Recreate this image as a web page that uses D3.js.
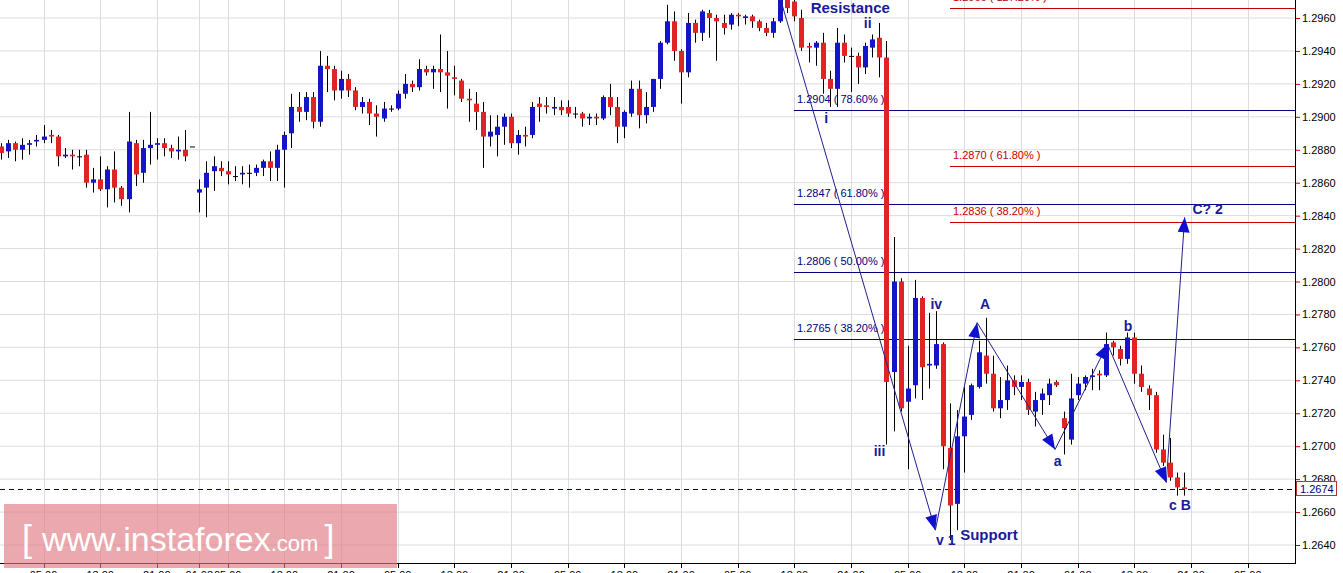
<!DOCTYPE html>
<html>
<head>
<meta charset="utf-8">
<script src="https://cdn.jsdelivr.net/npm/d3@7"></script>
<style>
  body { margin: 0; background: #fff; }
  svg { display: block; font-family: Arial, "Liberation Sans", sans-serif; }
</style>
</head>
<body>
<div id="chart"></div>
<script>
// GBP/USD H1 candles
var open = [1.2882,1.2879,1.2884,1.2880,1.2883,1.2885,1.2886,1.2889,1.2888,1.2876,1.2877,1.2876,1.2877,1.2860,1.2862,1.2856,1.2868,1.2857,1.2850,1.2884,1.2866,1.2881,1.2883,1.2884,1.2881,1.2879,1.2880,1.2882,
  1.2854,1.2857,1.2867,1.2869,1.2867,1.2864,1.2865,1.2866,1.2866,1.2869,1.2873,1.2869,1.2880,1.2890,1.2906,1.2903,1.2912,1.2897,1.2931,1.2929,1.2916,1.2923,1.2916,1.2906,1.2909,1.2902,1.2899,1.2905,1.2905,1.2914,1.2920,1.2918,
  1.2929,1.2927,1.2929,1.2927,1.2924,1.2922,1.2911,1.2908,1.2903,1.2888,1.2889,1.2894,1.2900,1.2884,1.2889,1.2889,1.2908,1.2907,1.2905,1.2906,1.2906,1.2902,1.2902,1.2899,1.2900,1.2899,1.2912,1.2906,1.2894,1.2902,1.2917,1.2901,1.2906,1.2923,1.2945,1.2958,1.2940,1.2927,1.2957,1.2951,
  1.2963,1.2960,1.2957,1.2956,1.2962,1.2960,1.2961,1.2958,1.2954,1.2951,1.2958,1.2975,1.2970,1.2960,1.2943,1.2942,1.2945,1.2923,1.2917,1.2945,1.2937,1.2937,1.2930,1.2942,1.2948,1.2936,
  1.2745,1.2800,1.2727,1.2737,1.2790,1.2749,1.2749,1.2762,1.2699,1.2665,1.2706,1.2719,1.2736,1.2755,1.2744,1.2723,1.2728,1.2740,1.2736,1.2739,1.2721,1.2728,1.2731,1.2739,1.2717,1.2704,1.2731,1.2738,1.2742,1.2744,
  1.2743,1.2763,1.2759,1.2753,1.2766,1.2744,1.2735,1.2731,1.2698,1.2690,1.2681,1.2675];
var high = [1.2884,1.2886,1.2885,1.2887,1.2886,1.2889,1.2895,1.2892,1.2889,1.2881,1.2880,1.2880,1.2880,1.2869,1.2876,1.2870,1.2879,1.2858,1.2903,1.2886,1.2886,1.2903,1.2887,1.2887,1.2883,1.2888,1.2892,1.2882,
  1.2862,1.2873,1.2876,1.2873,1.2873,1.2870,1.2870,1.2871,1.2871,1.2874,1.2879,1.2883,1.2891,1.2914,1.2915,1.2915,1.2915,1.2940,1.2937,1.2931,1.2928,1.2926,1.2918,1.2912,1.2911,1.2907,1.2909,1.2907,1.2916,1.2926,1.2922,1.2935,
  1.2931,1.2931,1.2950,1.2940,1.2931,1.2923,1.2917,1.2915,1.2909,1.2901,1.2901,1.2902,1.2902,1.2892,1.2894,1.2909,1.2912,1.2912,1.2912,1.2910,1.2910,1.2906,1.2903,1.2902,1.2902,1.2913,1.2920,1.2912,1.2904,1.2922,1.2922,1.2915,1.2923,1.2946,1.2968,1.2964,1.2941,1.2963,1.2959,1.2965,
  1.2965,1.2962,1.2962,1.2963,1.2963,1.2962,1.2962,1.2959,1.2957,1.2960,1.2974,1.2978,1.2975,1.2965,1.2945,1.2946,1.2951,1.2928,1.2954,1.2950,1.2942,1.2939,1.2945,1.2950,1.2957,1.2946,
  1.2827,1.2802,1.2761,1.2801,1.2791,1.2781,1.2782,1.2763,1.2726,1.2722,1.2736,1.2738,1.2764,1.2778,1.2755,1.2742,1.2749,1.2743,1.2743,1.2741,1.2733,1.2735,1.2741,1.2740,1.2721,1.2744,1.2742,1.2743,1.2747,1.2746,
  1.2769,1.2764,1.2761,1.2769,1.2769,1.2749,1.2737,1.2733,1.2707,1.2705,1.2684,1.2684];
var low = [1.2874,1.2875,1.2873,1.2874,1.2877,1.2882,1.2884,1.2884,1.2870,1.2875,1.2868,1.2870,1.2857,1.2854,1.2855,1.2845,1.2848,1.2846,1.2842,1.2858,1.2860,1.2871,1.2874,1.2876,1.2875,1.2874,1.2873,1.2882,
  1.2842,1.2839,1.2855,1.2864,1.2859,1.2861,1.2859,1.2857,1.2864,1.2864,1.2861,1.2861,1.2857,1.2881,1.2897,1.2898,1.2893,1.2894,1.2915,1.2910,1.2911,1.2912,1.2904,1.2902,1.2895,1.2888,1.2897,1.2903,1.2904,1.2911,1.2915,1.2916,
  1.2925,1.2917,1.2915,1.2905,1.2913,1.2909,1.2897,1.2892,1.2869,1.2882,1.2876,1.2883,1.2881,1.2877,1.2882,1.2887,1.2897,1.2902,1.2901,1.2901,1.2900,1.2899,1.2894,1.2895,1.2895,1.2898,1.2901,1.2884,1.2887,1.2900,1.2893,1.2896,1.2903,1.2917,1.2944,1.2934,1.2908,1.2924,1.2945,1.2946,
  1.2948,1.2934,1.2950,1.2953,1.2955,1.2956,1.2954,1.2952,1.2949,1.2948,1.2957,1.2963,1.2958,1.2940,1.2933,1.2931,1.2914,1.2906,1.2906,1.2933,1.2915,1.2920,1.2926,1.2936,1.2924,1.2701,
  1.2709,1.2721,1.2686,1.2729,1.2728,1.2735,1.2747,1.2686,1.2643,1.2649,1.2684,1.2716,1.2735,1.2738,1.2721,1.2717,1.2722,1.2731,1.2728,1.2719,1.2712,1.2719,1.2725,1.2736,1.2695,1.2701,1.2728,1.2734,1.2734,1.2734,
  1.2742,1.2755,1.2749,1.2750,1.2738,1.2733,1.2722,1.2696,1.2688,1.2679,1.2670,1.2670];
var close = [1.2878,1.2884,1.2880,1.2883,1.2884,1.2886,1.2888,1.2888,1.2876,1.2877,1.2876,1.2876,1.2860,1.2862,1.2856,1.2868,1.2857,1.2850,1.2885,1.2865,1.2881,1.2883,1.2884,1.2881,1.2879,1.2880,1.2876,1.2882,
  1.2856,1.2866,1.2870,1.2867,1.2865,1.2864,1.2866,1.2866,1.2869,1.2873,1.2869,1.2880,1.2889,1.2906,1.2903,1.2912,1.2897,1.2931,1.2929,1.2916,1.2923,1.2916,1.2906,1.2909,1.2902,1.2900,1.2905,1.2905,1.2914,1.2920,1.2918,1.2929,
  1.2927,1.2929,1.2927,1.2925,1.2923,1.2911,1.2910,1.2903,1.2888,1.2891,1.2894,1.2900,1.2884,1.2889,1.2888,1.2906,1.2906,1.2906,1.2906,1.2904,1.2902,1.2902,1.2899,1.2900,1.2899,1.2912,1.2906,1.2894,1.2903,1.2917,1.2901,1.2906,1.2923,1.2945,1.2958,1.2940,1.2927,1.2957,1.2951,1.2964,
  1.2960,1.2958,1.2954,1.2962,1.2961,1.2961,1.2958,1.2954,1.2951,1.2958,1.2971,1.2966,1.2961,1.2942,1.2942,1.2945,1.2923,1.2917,1.2945,1.2937,1.2937,1.2930,1.2943,1.2947,1.2936,1.2739,
  1.2800,1.2723,1.2735,1.2790,1.2748,1.2750,1.2762,1.2700,1.2664,1.2706,1.2718,1.2737,1.2757,1.2744,1.2723,1.2728,1.2740,1.2736,1.2739,1.2722,1.2728,1.2732,1.2738,1.2737,1.2711,1.2729,1.2738,1.2742,1.2743,1.2743,
  1.2762,1.2760,1.2753,1.2766,1.2744,1.2736,1.2731,1.2698,1.2690,1.2681,1.2675,1.2674];

var priceTicks = [1.2640,1.2660,1.2680,1.2700,1.2720,1.2740,1.2760,1.2780,1.2800,1.2820,1.2840,1.2860,1.2880,1.2900,1.2920,1.2940,1.2960];
var gridIdx = [6,14,22,28,32,40,48,56,64,72,80,88,96,104,112,120,128,136,144,152,160,168,176];
var tickLabels = ["05:00","13:00","21:00","01.08","05:00","13:00","21:00","05:00","13:00","21:00","05:00","13:00","21:00","05:00","13:00","21:00","05:00","13:00","21:00","01.08","13:00","21:00","05:00"];

// Fibonacci levels
var fibBlue = [{p:1.2904,t:"1.2904 ( 78.60% )"},{p:1.2847,t:"1.2847 ( 61.80% )"},{p:1.2806,t:"1.2806 ( 50.00% )"},{p:1.2765,t:"1.2765 ( 38.20% )"}];
var fibRed = [{p:1.2966,t:"1.2966 ( 127.20% )"},{p:1.2870,t:"1.2870 ( 61.80% )"},{p:1.2836,t:"1.2836 ( 38.20% )"}];
var lastPrice = 1.2674;

// wave path [candle index, price]
var wave = [[110,1.2972],[131.9,1.2649],[137.8,1.2775],[148.8,1.2698],[156.2,1.2762],[164.5,1.2678],[167.1,1.2839]];
var waveLabels = [
  {i:114.3,p:1.2963,t:"Resistance",s:15},{i:121.8,p:1.2954,t:"ii",s:14},{i:116.2,p:1.2896,t:"i",s:14},
  {i:123.2,p:1.2694,t:"iii",s:14},{i:131.2,p:1.2783,t:"iv",s:14},{i:132,p:1.2640,t:"v 1",s:14},
  {i:135.4,p:1.2643,t:"Support",s:15},{i:138.2,p:1.2783,t:"A",s:14},{i:148.6,p:1.2688,t:"a",s:14},
  {i:158.5,p:1.2770,t:"b",s:14},{i:164.9,p:1.2661,t:"c B",s:14},{i:168.2,p:1.2841,t:"C? 2",s:14}
];

var W = 1343, H = 573, plotR = 1295, plotB = 563;
var x = d3.scaleLinear().domain([0, 167]).range([1, 1184]);
var y = d3.scaleLinear().domain([1.2640, 1.2960]).range([545, 18]);

var svg = d3.select("#chart").append("svg").attr("width", W).attr("height", H);
var plot = svg.append("g");
plot.append("defs").append("clipPath").attr("id", "clip")
  .append("rect").attr("width", plotR).attr("height", plotB);
var g = plot.append("g").attr("clip-path", "url(#clip)");

// grid
g.selectAll(".hg").data(priceTicks).enter().append("line")
  .attr("x1", 0).attr("x2", plotR).attr("y1", d => y(d)).attr("y2", d => y(d))
  .attr("stroke", "#dcdcdc");
g.selectAll(".vg").data(gridIdx).enter().append("line")
  .attr("x1", d => Math.round(x(d)) + 0.5).attr("x2", d => Math.round(x(d)) + 0.5)
  .attr("y1", 0).attr("y2", plotB).attr("stroke", "#dcdcdc");

// fib lines
g.selectAll(".fb").data(fibBlue).enter().append("line")
  .attr("x1", 794).attr("x2", plotR).attr("y1", d => Math.round(y(d.p)) + 0.5).attr("y2", d => Math.round(y(d.p)) + 0.5)
  .attr("stroke", "#000080");
g.selectAll(".fbt").data(fibBlue).enter().append("text")
  .attr("x", 797).attr("y", d => y(d.p) - 7).text(d => d.t)
  .attr("font-size", 11).attr("fill", "#000080");
g.selectAll(".fr").data(fibRed).enter().append("line")
  .attr("x1", 950).attr("x2", plotR).attr("y1", d => Math.round(y(d.p)) + 0.5).attr("y2", d => Math.round(y(d.p)) + 0.5)
  .attr("stroke", "#c00000");
g.selectAll(".frt").data(fibRed).enter().append("text")
  .attr("x", 953).attr("y", d => y(d.p) - 7).text(d => d.t)
  .attr("font-size", 11).attr("fill", "#c00000");

// last price dashed
g.append("line").attr("x1", 0).attr("x2", plotR)
  .attr("y1", Math.round(y(lastPrice)) + 0.5).attr("y2", Math.round(y(lastPrice)) + 0.5)
  .attr("stroke", "#000060").attr("stroke-dasharray", "5,4");

// candles
var idx = d3.range(open.length);
g.selectAll(".wick").data(idx).enter().append("line")
  .attr("x1", i => Math.round(x(i)) + 0.5).attr("x2", i => Math.round(x(i)) + 0.5)
  .attr("y1", i => y(high[i])).attr("y2", i => y(low[i]))
  .attr("stroke", "#000");
g.selectAll(".body").data(idx).enter().append("rect")
  .attr("x", i => Math.round(x(i)) - 2)
  .attr("width", 5)
  .attr("y", i => y(Math.max(open[i], close[i])))
  .attr("height", i => Math.max(1, y(Math.min(open[i], close[i])) - y(Math.max(open[i], close[i]))))
  .attr("fill", i => close[i] > open[i] ? "#1414c8" : close[i] < open[i] ? "#e02424" : "#000");

// wave lines
var wpts = wave.map(d => [x(d[0]), y(d[1])]);
g.append("path").attr("d", d3.line()(wpts)).attr("fill", "none")
  .attr("stroke", "#20208a").attr("stroke-width", 1);
for (var k = 1; k < wpts.length; k++) {
  var a = wpts[k - 1], b = wpts[k];
  var ang = Math.atan2(b[1] - a[1], b[0] - a[0]) * 180 / Math.PI;
  g.append("path").attr("d", "M0,0 L-15,-6 L-15,6 Z")
    .attr("transform", "translate(" + b[0] + "," + b[1] + ") rotate(" + ang + ")")
    .attr("fill", "#1010d0");
}
g.selectAll(".wl").data(waveLabels).enter().append("text")
  .attr("x", d => x(d.i)).attr("y", d => y(d.p)).text(d => d.t)
  .attr("font-size", d => d.s).attr("font-weight", "bold").attr("fill", "#1a1a9a");

// axes
svg.append("line").attr("x1", plotR + 0.5).attr("x2", plotR + 0.5).attr("y1", 0).attr("y2", plotB + 1).attr("stroke", "#000");
svg.append("line").attr("x1", 0).attr("x2", plotR + 1).attr("y1", plotB + 0.5).attr("y2", plotB + 0.5).attr("stroke", "#000");
var ya = svg.append("g").attr("transform", "translate(" + (plotR + 1) + ",0)")
  .call(d3.axisRight(y).tickValues(priceTicks).tickFormat(d3.format(".4f")).tickSize(4));
ya.select(".domain").remove();
ya.selectAll("line").attr("stroke", "#c00000");
ya.selectAll("text").attr("font-size", 11).attr("fill", "#000").attr("x", 6)
  .attr("font-family", "Arial, Liberation Sans, sans-serif");

var xa = svg.append("g").attr("transform", "translate(0," + (plotB + 1) + ")");
xa.selectAll("line").data(gridIdx).enter().append("line")
  .attr("x1", d => Math.round(x(d)) + 0.5).attr("x2", d => Math.round(x(d)) + 0.5)
  .attr("y1", 0).attr("y2", 4).attr("stroke", "#000");
xa.selectAll("text").data(gridIdx).enter().append("text")
  .attr("x", d => x(d)).attr("y", 15).attr("text-anchor", "middle")
  .attr("font-size", 11).text((d, k) => tickLabels[k]);

// last price tag
var ly = y(lastPrice);
svg.append("rect").attr("x", plotR + 1.5).attr("y", ly - 7.5).attr("width", 40).attr("height", 14)
  .attr("fill", "#fff").attr("stroke", "#c03030");
svg.append("text").attr("x", plotR + 5).attr("y", ly + 4).text(d3.format(".4f")(lastPrice))
  .attr("font-size", 11).attr("fill", "#000080");

// watermark
svg.append("rect").attr("x", 4).attr("y", 504).attr("width", 393).attr("height", 64)
  .attr("fill", "#e07a82").attr("opacity", 0.65);
var wm = svg.append("text").attr("x", 22).attr("y", 551).attr("fill", "#fff");
wm.append("tspan").attr("font-size", 36).attr("font-weight", 300).text("[ ");
wm.append("tspan").attr("font-size", 34).text(" www.instaforex");
wm.append("tspan").attr("font-size", 22).text(".com ");
wm.append("tspan").attr("font-size", 36).text("]");
</script>
</body>
</html>
